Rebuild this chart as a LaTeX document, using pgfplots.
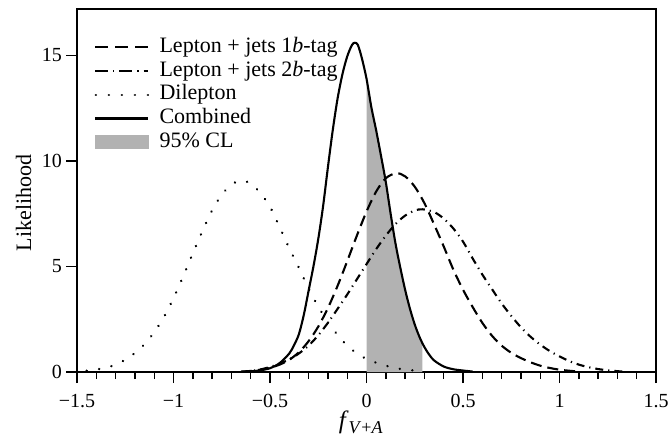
\documentclass[border=0pt]{standalone}
\usepackage{pgfplots}
\pgfplotsset{compat=1.18}
\usepackage{fontspec}
\setmainfont{Liberation Serif}
\pgfplotsset{
  legA/.style={legend image code/.code={\draw[black, line width=1.05pt, dash pattern=on 6.5pt off 3.5pt] (0pt,0pt) -- (26.5pt,0pt);}},
  legB/.style={legend image code/.code={\draw[black, line width=1.05pt, dash pattern=on 6.5pt off 2.5pt on 0.6pt off 2.5pt] (0pt,0pt) -- (26.5pt,0pt);}},
  legC/.style={legend image code/.code={\draw[black, line width=1.3pt, line cap=round, dash pattern=on 0.01pt off 6.5pt] (0.3pt,0pt) -- (26.5pt,0pt);}},
  legD/.style={legend image code/.code={\draw[black, line width=1.05pt] (0pt,0pt) -- (26.5pt,0pt);}},
  legE/.style={legend image code/.code={\fill[gray!60] (0pt,-3.3pt) rectangle (26.5pt,3.3pt);}},
}
\pgfplotstableread{
x y
-0.65 0.0
-0.60 0.03
-0.55 0.08
-0.50 0.18
-0.45 0.42
-0.40 0.88
-0.375 1.28
-0.35 1.8
-0.325 2.7
-0.30 3.85
-0.275 5.0
-0.25 6.3
-0.225 7.85
-0.20 9.7
-0.175 11.45
-0.15 12.95
-0.125 14.1
-0.10 14.95
-0.075 15.5
-0.06 15.6
-0.045 15.5
-0.025 14.9
0.00 13.9
0.025 12.55
0.05 11.45
0.075 10.25
0.10 9.0
0.125 7.5
0.15 6.1
0.175 4.95
0.20 3.9
0.225 3.0
0.25 2.25
0.275 1.65
0.30 1.18
0.325 0.82
0.35 0.55
0.40 0.26
0.45 0.13
0.50 0.07
0.55 0.02
}\combined
\pgfplotstableread{
x y
0.00 13.9
0.025 12.55
0.05 11.45
0.075 10.25
0.10 9.0
0.125 7.5
0.15 6.1
0.175 4.95
0.20 3.9
0.225 3.0
0.25 2.25
0.275 1.65
0.29 1.36
}\shade
\pgfplotstableread{
x y
-0.65 0.02
-0.60 0.05
-0.55 0.11
-0.50 0.20
-0.45 0.35
-0.40 0.58
-0.35 0.94
-0.30 1.46
-0.25 2.15
-0.20 3.03
-0.15 4.08
-0.10 5.25
-0.05 6.46
0.00 7.60
0.05 8.55
0.10 9.18
0.154 9.42
0.20 9.27
0.25 8.78
0.30 8.0
0.35 7.0
0.40 5.95
0.45 4.85
0.50 3.9
0.55 3.08
0.60 2.33
0.65 1.72
0.70 1.25
0.75 0.91
0.80 0.66
0.85 0.46
0.90 0.30
0.95 0.19
1.00 0.11
1.05 0.06
1.10 0.02
}\onebtag
\pgfplotstableread{
x y
-0.65 0.0
-0.60 0.05
-0.55 0.12
-0.50 0.24
-0.45 0.40
-0.40 0.60
-0.35 0.88
-0.30 1.25
-0.25 1.74
-0.20 2.33
-0.15 2.99
-0.10 3.67
-0.05 4.39
0.00 5.11
0.05 5.82
0.10 6.46
0.15 7.01
0.20 7.41
0.25 7.65
0.29 7.71
0.35 7.58
0.40 7.27
0.45 6.80
0.50 6.18
0.55 5.38
0.60 4.62
0.65 3.93
0.70 3.25
0.75 2.66
0.80 2.12
0.85 1.67
0.90 1.30
0.95 0.99
1.00 0.74
1.05 0.52
1.10 0.35
1.15 0.23
1.20 0.14
1.25 0.08
1.30 0.04
1.34 0.01
}\twobtag
\pgfplotstableread{
x y
-1.45 0.06
-1.40 0.12
-1.35 0.20
-1.30 0.35
-1.25 0.58
-1.20 0.90
-1.15 1.32
-1.10 1.88
-1.05 2.60
-1.00 3.50
-0.95 4.53
-0.90 5.62
-0.85 6.68
-0.80 7.66
-0.75 8.40
-0.70 8.88
-0.65 9.07
-0.60 8.93
-0.55 8.48
-0.50 7.83
-0.45 6.86
-0.40 5.86
-0.35 4.93
-0.30 3.95
-0.25 3.10
-0.20 2.36
-0.15 1.76
-0.10 1.25
-0.05 0.88
0.00 0.62
0.05 0.44
0.10 0.30
0.15 0.19
0.20 0.11
0.25 0.07
0.30 0.04
}\dilepton
\begin{document}
\begin{tikzpicture}
\useasboundingbox (-38.5pt,-36pt) rectangle (297.5pt,186pt);
\begin{axis}[
  at={(0pt,0pt)}, anchor=south west,
  scale only axis, width=289.5pt, height=181.5pt,
  xmin=-1.5, xmax=1.5, ymin=0, ymax=17.2,
  xtick={-1.5,-1,-0.5,0,0.5,1,1.5},
  xticklabels={−1.5,−1,−0.5,0,0.5,1,1.5},
  ytick={0,5,10,15},
  yticklabels={0,5,10,15},
  minor x tick num=4,
  tick pos=left,
  tick align=outside,
  major tick length=5.5pt, minor tick length=3.5pt,
  every tick/.style={black, line width=0.7pt},
  axis line style={line width=0.7pt},
  tick label style={font=\fontsize{10}{12}\selectfont},
  xticklabel style={yshift=-2pt},
  yticklabel style={xshift=1.5pt},
  xlabel={{\fontsize{12.5}{14}\selectfont\textit{f}}\raisebox{-2.5pt}{\fontsize{9}{10}\selectfont\textit{V}+\textit{A}}},
  ylabel={Likelihood},
  xlabel style={at={(axis description cs:0.49,-0.138)}, anchor=center},
  ylabel style={at={(axis description cs:-0.0924,0.466)}, anchor=center, font=\fontsize{11}{13}\selectfont},
  legend cell align=left,
  legend style={draw=none, fill=none, at={(axis description cs:0.029,0.9256)}, anchor=north west,
    inner sep=0pt, font=\fontsize{11}{13}\selectfont, row sep=0.85pt, column sep=0pt,
    cells={anchor=west},
    nodes={inner xsep=5pt, inner ysep=0.5pt, text height=7.5pt, text depth=2.5pt}},
]
\addplot[fill=gray!60, draw=none, smooth, forget plot] table[x=x,y=y] {\shade} \closedcycle;
\addplot[black, line width=1.05pt, smooth, dash pattern=on 5.5pt off 3pt, legA]
  table[x=x,y=y] {\onebtag};
\addlegendentry{Lepton + jets 1\textit{b}-tag}
\addplot[black, line width=1.05pt, smooth, dash pattern=on 4pt off 2.5pt on 0.6pt off 2.5pt, legB]
  table[x=x,y=y] {\twobtag};
\addlegendentry{Lepton + jets 2\textit{b}-tag}
\addplot[black, line width=1.3pt, line cap=round, smooth, dash pattern=on 0.01pt off 6.3pt, legC]
  table[x=x,y=y] {\dilepton};
\addlegendentry{Dilepton}
\addplot[black, line width=1.05pt, smooth, legD]
  table[x=x,y=y] {\combined};
\addlegendentry{Combined}
\addlegendimage{legE}
\addlegendentry{95\% CL}
\end{axis}
\end{tikzpicture}
\end{document}
